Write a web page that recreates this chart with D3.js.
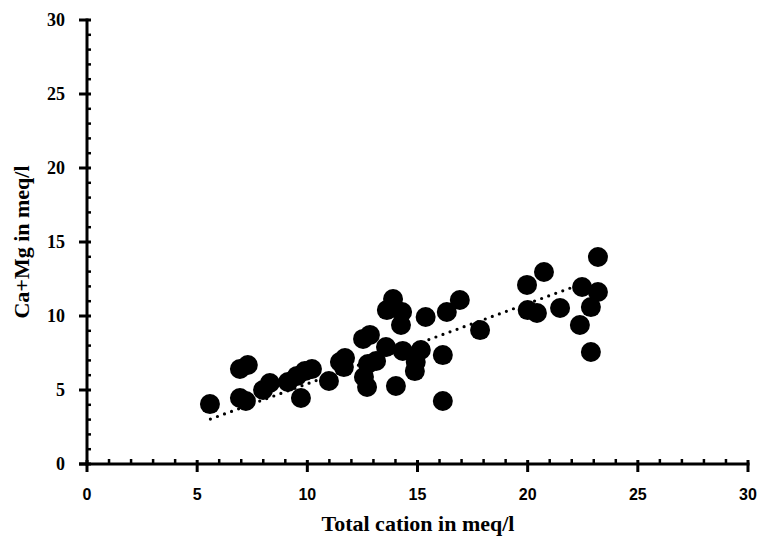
<!DOCTYPE html>
<html>
<head>
<meta charset="utf-8">
<script src="https://cdn.jsdelivr.net/npm/d3@7"></script>
<style>
  html, body { margin: 0; padding: 0; background: #fff; }
  svg { display: block; }
  text { font-weight: bold; fill: #000; }
  .serif { font-family: "Liberation Serif", "Times New Roman", serif; }
  .sans { font-family: "Liberation Sans", Arial, sans-serif; }
</style>
</head>
<body>
<svg id="chart" width="767" height="548"></svg>
<script>
// Total cation (meq/l) for each sample
const totalCation = [
  5.58, 6.94, 7.30, 6.94, 7.21, 7.99, 8.30, 9.12, 9.53, 9.71,
  9.89, 10.21, 10.98, 11.48, 11.71, 11.66, 12.53, 12.84, 12.71, 12.57,
  12.75, 13.12, 13.57, 13.61, 13.89, 14.25, 14.30, 14.02, 14.33, 14.88,
  14.92, 15.15, 15.37, 16.15, 16.15, 16.33, 16.92, 17.84, 19.97, 20.00,
  20.42, 20.74, 21.47, 22.47, 22.37, 22.87, 22.87, 23.19, 23.19
];
// Ca+Mg (meq/l) for the same samples
const caMg = [
  4.05, 6.42, 6.69, 4.46, 4.26, 5.00, 5.47, 5.54, 5.95, 4.46,
  6.28, 6.42, 5.61, 6.89, 7.16, 6.55, 8.45, 8.72, 5.20, 5.88,
  6.76, 6.96, 7.90, 10.40, 11.15, 9.39, 10.27, 5.27, 7.64, 6.28,
  6.89, 7.70, 9.93, 7.36, 4.26, 10.27, 11.08, 9.05, 12.10, 10.40,
  10.20, 12.97, 10.54, 11.96, 9.39, 10.60, 7.57, 13.99, 11.62
];
// Linear trend: Ca+Mg = trendSlope * total cation + trendIntercept
const trendSlope = 0.542;
const trendIntercept = 0.0;
const trendRange = [5.6, 22.7];
const xTicks = [0, 5, 10, 15, 20, 25, 30];
const yTicks = [0, 5, 10, 15, 20, 25, 30];
const xTitle = "Total cation in meq/l";
const yTitle = "Ca+Mg in meq/l";

const svg = d3.select("#chart");
const x = d3.scaleLinear().domain([0, 30]).range([87, 748]);
const y = d3.scaleLinear().domain([0, 30]).range([464, 20]);

const minor = d3.range(0, 31, 1).filter(v => v % 5 !== 0);

// Y axis: line, minor ticks inside, major ticks crossing
const gy = svg.append("g");
gy.append("line").attr("x1", x(0)).attr("x2", x(0)).attr("y1", y(0) + 1.5).attr("y2", y(30) - 1.5)
  .attr("stroke", "#000").attr("stroke-width", 3);
gy.selectAll("line.minor").data(minor).join("line").attr("class", "minor")
  .attr("x1", x(0)).attr("x2", x(0) + 4).attr("y1", d => y(d)).attr("y2", d => y(d))
  .attr("stroke", "#000").attr("stroke-width", 2.5);
gy.selectAll("line.major").data(yTicks).join("line").attr("class", "major")
  .attr("x1", x(0) - 8).attr("x2", x(0) + 4).attr("y1", d => y(d)).attr("y2", d => y(d))
  .attr("stroke", "#000").attr("stroke-width", 3);
gy.selectAll("text").data(yTicks).join("text").attr("class", "serif")
  .attr("x", 65).attr("y", d => y(d)).attr("dy", "0.35em")
  .attr("text-anchor", "end").attr("font-size", 18).text(d => d);

// X axis
const gx = svg.append("g");
gx.append("line").attr("x1", x(0) - 8).attr("x2", x(30) + 1.5).attr("y1", y(0)).attr("y2", y(0))
  .attr("stroke", "#000").attr("stroke-width", 3);
gx.selectAll("line.minor").data(minor).join("line").attr("class", "minor")
  .attr("x1", d => x(d)).attr("x2", d => x(d)).attr("y1", y(0) - 5).attr("y2", y(0))
  .attr("stroke", "#000").attr("stroke-width", 2.5);
gx.selectAll("line.major").data(xTicks).join("line").attr("class", "major")
  .attr("x1", d => x(d)).attr("x2", d => x(d)).attr("y1", y(0) - 4).attr("y2", y(0) + 8)
  .attr("stroke", "#000").attr("stroke-width", 3);
gx.selectAll("text").data(xTicks).join("text").attr("class", "sans")
  .attr("x", d => x(d)).attr("y", 500)
  .attr("text-anchor", "middle").attr("font-size", 16).text(d => d);

// Axis titles
svg.append("text").attr("class", "serif").attr("x", 418).attr("y", 531).attr("text-anchor", "middle")
  .attr("font-size", 22).text(xTitle);
svg.append("text").attr("class", "serif").attr("transform", "translate(29,242) rotate(-90)")
  .attr("text-anchor", "middle").attr("font-size", 22).text(yTitle);

// Points
const data = totalCation.map((v, i) => ({ x: v, y: caMg[i] }));
svg.append("g").selectAll("circle").data(data).join("circle")
  .attr("cx", d => x(d.x)).attr("cy", d => y(d.y)).attr("r", 10).attr("fill", "#000");

// Dotted trend line
const [x0, x1] = trendRange;
svg.append("line")
  .attr("x1", x(x0)).attr("y1", y(trendIntercept + trendSlope * x0))
  .attr("x2", x(x1)).attr("y2", y(trendIntercept + trendSlope * x1))
  .attr("stroke", "#000").attr("stroke-width", 3.2)
  .attr("stroke-linecap", "round").attr("stroke-dasharray", "0 7.5");
</script>
</body>
</html>
